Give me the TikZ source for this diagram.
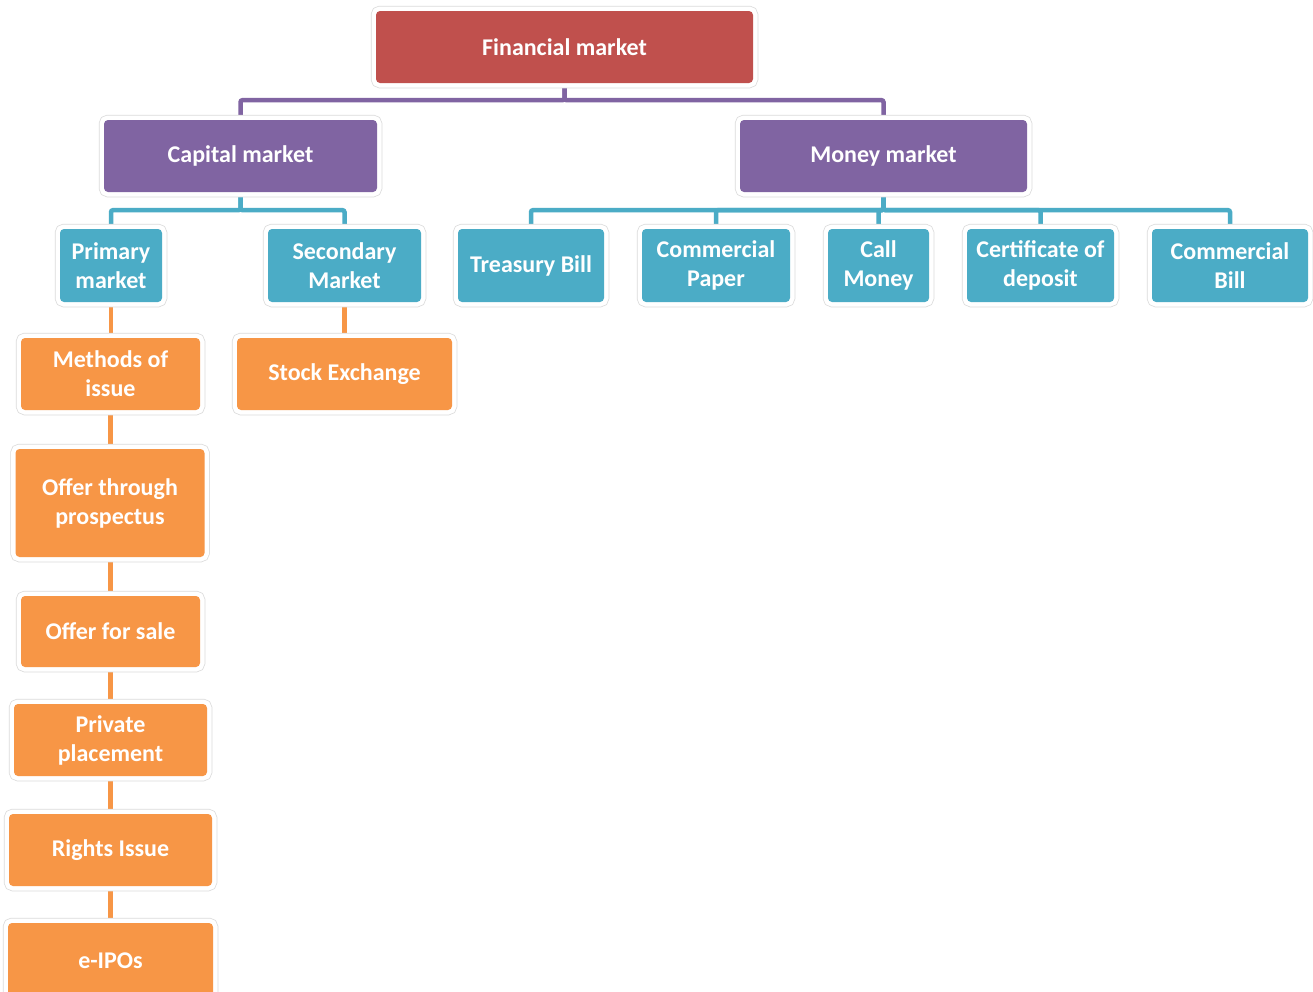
\documentclass[tikz,border=0pt]{standalone}
\usepackage{fontspec}
\setmainfont{Carlito}
\usetikzlibrary{backgrounds}
\definecolor{cred}{HTML}{C0504D}
\definecolor{cpurple}{HTML}{8064A2}
\definecolor{cblue}{HTML}{4BACC6}
\definecolor{corange}{HTML}{F79646}
\tikzset{
  box/.style={rectangle, rounded corners=4pt, fill=#1, draw=none,
    text=white, align=center, inner sep=2pt,
    font=\fontsize{24}{29}\selectfont\bfseries,
    preaction={draw=black!14, line width=10.5pt},
    preaction={draw=white, line width=9pt}},
  conn/.style={draw=#1, line width=4.5pt, rounded corners=2pt},
}
\begin{document}
\begin{tikzpicture}[x=1pt,y=-1pt]
\useasboundingbox (0,0) rectangle (1313,991);
\clip (0,0) rectangle (1313,991);
% level 0
\node[box=cred, minimum width=377pt, minimum height=72pt] (fm) at (564.5,47) {Financial market};
% level 1
\node[box=cpurple, minimum width=273pt, minimum height=72pt] (cap) at (240.5,156) {Capital market};
\node[box=cpurple, minimum width=287pt, minimum height=72pt] (mon) at (883.5,156) {Money market};
% level 2
\node[box=cblue, minimum width=102pt, minimum height=73pt] (pri) at (111,265.5) {Primary\\market};
\node[box=cblue, minimum width=153pt, minimum height=73pt] (sec) at (344.5,265.5) {Secondary\\Market};
\node[box=cblue, minimum width=146pt, minimum height=73pt] (tb) at (531,265.5) {Treasury Bill};
\node[box=cblue, minimum width=148pt, minimum height=73pt] (cp) at (716,265.5) {Commercial\\Paper};
\node[box=cblue, minimum width=101pt, minimum height=73pt] (call) at (878.5,265.5) {Call\\Money};
\node[box=cblue, minimum width=147pt, minimum height=73pt] (cd) at (1040.5,265.5) {Certificate of\\deposit};
\node[box=cblue, minimum width=156pt, minimum height=73pt] (cb) at (1230,265.5) {Commercial\\Bill};
% orange chain
\node[box=corange, minimum width=179pt, minimum height=72pt] (moi) at (110.5,374) {Methods of\\issue};
\node[box=corange, minimum width=215pt, minimum height=72pt] (se) at (344.5,374) {Stock Exchange};
\node[box=corange, minimum width=189pt, minimum height=108pt] (otp) at (110,503) {Offer through\\prospectus};
\node[box=corange, minimum width=179pt, minimum height=71pt] (ofs) at (110.5,631.5) {Offer for sale};
\node[box=corange, minimum width=193pt, minimum height=72pt] (pp) at (110.5,740) {Private\\placement};
\node[box=corange, minimum width=203pt, minimum height=72pt] (ri) at (110.5,850) {Rights Issue};
\node[box=corange, minimum width=205pt, minimum height=76pt] (eipo) at (110.5,961) {e-IPOs};
\begin{scope}[on background layer]
  \fill[white] (0,0) rectangle (1313,991);
  \draw[conn=cpurple] (fm.south) -- ++(0,17) -| (cap.north);
  \draw[conn=cpurple] (fm.south) -- ++(0,17) -| (mon.north);
  \draw[conn=cblue] (cap.south) -- ++(0,18) -| (pri.north);
  \draw[conn=cblue] (cap.south) -- ++(0,18) -| (sec.north);
  \foreach \n in {tb,cp,call,cd,cb}
    \draw[conn=cblue] (mon.south) -- ++(0,18) -| (\n.north);
  \draw[conn=corange] (pri.south) -- (pri.south |- moi.north);
  \draw[conn=corange] (sec.south) -- (se.north);
  \draw[conn=corange] (moi.south) -- (moi.south |- otp.north);
  \draw[conn=corange] (otp.north |- otp.south) ++(0.5,0) -- (ofs.north);
  \draw[conn=corange] (ofs.south) -- (pp.north);
  \draw[conn=corange] (pp.south) -- (ri.north);
  \draw[conn=corange] (ri.south) -- (eipo.north);
\end{scope}
\end{tikzpicture}
\end{document}
